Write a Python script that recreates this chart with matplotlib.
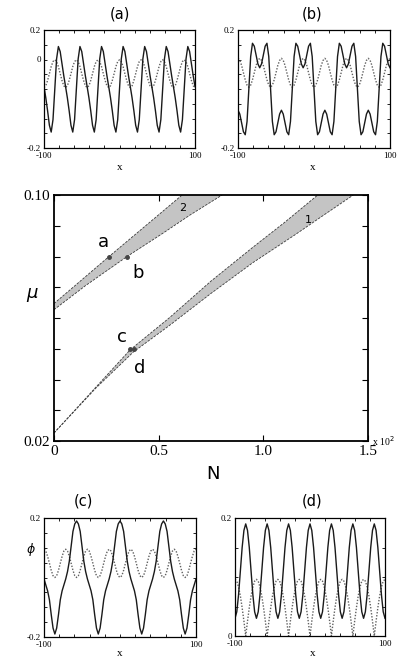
import numpy as np
import matplotlib.pyplot as plt

plt.rcParams['font.family'] = ['Liberation Serif', 'DejaVu Serif']

# ---- profile panels: 85 samples on [-100, 100] ----
x = np.linspace(-100, 100, 85)

# (a) solid field and dotted lattice, one line per lattice period
phi_a = [0.008, -0.030, -0.074, -0.123, -0.146, -0.104, -0.001, 0.102, 0.144, 0.127, 0.086, 0.045,
         0.008, -0.030, -0.074, -0.123, -0.146, -0.104, -0.001, 0.102, 0.144, 0.127, 0.086, 0.045,
         0.008, -0.030, -0.074, -0.123, -0.146, -0.104, -0.001, 0.102, 0.144, 0.127, 0.086, 0.045,
         0.008, -0.030, -0.074, -0.123, -0.146, -0.104, -0.001, 0.102, 0.144, 0.127, 0.086, 0.045,
         0.008, -0.030, -0.074, -0.123, -0.146, -0.104, -0.001, 0.102, 0.144, 0.127, 0.086, 0.045,
         0.008, -0.030, -0.074, -0.123, -0.146, -0.104, -0.001, 0.102, 0.144, 0.127, 0.086, 0.045,
         0.008, -0.030, -0.074, -0.123, -0.146, -0.104, -0.001, 0.102, 0.144, 0.127, 0.086, 0.045,
         0.008]
pot_a = [0.005, 0.011, 0.029, 0.052, 0.076, 0.093, 0.099, 0.093, 0.076, 0.052, 0.029, 0.011,
         0.005, 0.011, 0.029, 0.052, 0.076, 0.093, 0.099, 0.093, 0.076, 0.052, 0.029, 0.011,
         0.005, 0.011, 0.029, 0.052, 0.076, 0.093, 0.099, 0.093, 0.076, 0.052, 0.029, 0.011,
         0.005, 0.011, 0.029, 0.052, 0.076, 0.093, 0.099, 0.093, 0.076, 0.052, 0.029, 0.011,
         0.005, 0.011, 0.029, 0.052, 0.076, 0.093, 0.099, 0.093, 0.076, 0.052, 0.029, 0.011,
         0.005, 0.011, 0.029, 0.052, 0.076, 0.093, 0.099, 0.093, 0.076, 0.052, 0.029, 0.011,
         0.005, 0.011, 0.029, 0.052, 0.076, 0.093, 0.099, 0.093, 0.076, 0.052, 0.029, 0.011,
         0.005]

# (b)
phi_b = [-0.072, -0.085, -0.115, -0.145, -0.155, -0.110, 0.0, 0.110, 0.155, 0.145, 0.115, 0.085,
         0.072, 0.085, 0.115, 0.145, 0.155, 0.110, 0.0, -0.110, -0.155, -0.145, -0.115, -0.085,
         -0.072, -0.085, -0.115, -0.145, -0.155, -0.110, 0.0, 0.110, 0.155, 0.145, 0.115, 0.085,
         0.072, 0.085, 0.115, 0.145, 0.155, 0.110, 0.0, -0.110, -0.155, -0.145, -0.115, -0.085,
         -0.072, -0.085, -0.115, -0.145, -0.155, -0.110, 0.0, 0.110, 0.155, 0.145, 0.115, 0.085,
         0.072, 0.085, 0.115, 0.145, 0.155, 0.110, 0.0, -0.110, -0.155, -0.145, -0.115, -0.085,
         -0.072, -0.085, -0.115, -0.145, -0.155, -0.110, 0.0, 0.110, 0.155, 0.145, 0.115, 0.085,
         0.072]
pot_b = [0.104, 0.097, 0.080, 0.055, 0.031, 0.013, 0.006, 0.013, 0.031, 0.055, 0.080, 0.097,
         0.104, 0.097, 0.080, 0.055, 0.031, 0.013, 0.006, 0.013, 0.031, 0.055, 0.080, 0.097,
         0.104, 0.097, 0.080, 0.055, 0.031, 0.013, 0.006, 0.013, 0.031, 0.055, 0.080, 0.097,
         0.104, 0.097, 0.080, 0.055, 0.031, 0.013, 0.006, 0.013, 0.031, 0.055, 0.080, 0.097,
         0.104, 0.097, 0.080, 0.055, 0.031, 0.013, 0.006, 0.013, 0.031, 0.055, 0.080, 0.097,
         0.104, 0.097, 0.080, 0.055, 0.031, 0.013, 0.006, 0.013, 0.031, 0.055, 0.080, 0.097,
         0.104, 0.097, 0.080, 0.055, 0.031, 0.013, 0.006, 0.013, 0.031, 0.055, 0.080, 0.097,
         0.104]

# (c)
phi_c = [-0.005, -0.025, -0.045, -0.075, -0.125, -0.170, -0.190, -0.170, -0.125, -0.075, -0.045, -0.025,
         -0.005, 0.020, 0.055, 0.105, 0.155, 0.180, 0.190, 0.180, 0.155, 0.105, 0.055, 0.020,
         -0.005, -0.025, -0.045, -0.075, -0.125, -0.170, -0.190, -0.170, -0.125, -0.075, -0.045, -0.025,
         -0.005, 0.020, 0.055, 0.105, 0.155, 0.180, 0.190, 0.180, 0.155, 0.105, 0.055, 0.020,
         -0.005, -0.025, -0.045, -0.075, -0.125, -0.170, -0.190, -0.170, -0.125, -0.075, -0.045, -0.025,
         -0.005, 0.020, 0.055, 0.105, 0.155, 0.180, 0.190, 0.180, 0.155, 0.105, 0.055, 0.020,
         -0.005, -0.025, -0.045, -0.075, -0.125, -0.170, -0.190, -0.170, -0.125, -0.075, -0.045, -0.025,
         -0.005]
pot_c = [0.095, 0.089, 0.071, 0.048, 0.024, 0.006, 0.0, 0.006, 0.024, 0.048, 0.071, 0.089,
         0.095, 0.089, 0.071, 0.048, 0.024, 0.006, 0.0, 0.006, 0.024, 0.048, 0.071, 0.089,
         0.095, 0.089, 0.071, 0.048, 0.024, 0.006, 0.0, 0.006, 0.024, 0.048, 0.071, 0.089,
         0.095, 0.089, 0.071, 0.048, 0.024, 0.006, 0.0, 0.006, 0.024, 0.048, 0.071, 0.089,
         0.095, 0.089, 0.071, 0.048, 0.024, 0.006, 0.0, 0.006, 0.024, 0.048, 0.071, 0.089,
         0.095, 0.089, 0.071, 0.048, 0.024, 0.006, 0.0, 0.006, 0.024, 0.048, 0.071, 0.089,
         0.095, 0.089, 0.071, 0.048, 0.024, 0.006, 0.0, 0.006, 0.024, 0.048, 0.071, 0.089,
         0.095]

# (d)
phi_d = [0.030, 0.041, 0.070, 0.110, 0.150, 0.179, 0.190, 0.179, 0.150, 0.110, 0.070, 0.041,
         0.030, 0.041, 0.070, 0.110, 0.150, 0.179, 0.190, 0.179, 0.150, 0.110, 0.070, 0.041,
         0.030, 0.041, 0.070, 0.110, 0.150, 0.179, 0.190, 0.179, 0.150, 0.110, 0.070, 0.041,
         0.030, 0.041, 0.070, 0.110, 0.150, 0.179, 0.190, 0.179, 0.150, 0.110, 0.070, 0.041,
         0.030, 0.041, 0.070, 0.110, 0.150, 0.179, 0.190, 0.179, 0.150, 0.110, 0.070, 0.041,
         0.030, 0.041, 0.070, 0.110, 0.150, 0.179, 0.190, 0.179, 0.150, 0.110, 0.070, 0.041,
         0.030, 0.041, 0.070, 0.110, 0.150, 0.179, 0.190, 0.179, 0.150, 0.110, 0.070, 0.041,
         0.030]
pot_d = [0.096, 0.093, 0.083, 0.068, 0.048, 0.025, 0.0, 0.025, 0.048, 0.068, 0.083, 0.093,
         0.096, 0.093, 0.083, 0.068, 0.048, 0.025, 0.0, 0.025, 0.048, 0.068, 0.083, 0.093,
         0.096, 0.093, 0.083, 0.068, 0.048, 0.025, 0.0, 0.025, 0.048, 0.068, 0.083, 0.093,
         0.096, 0.093, 0.083, 0.068, 0.048, 0.025, 0.0, 0.025, 0.048, 0.068, 0.083, 0.093,
         0.096, 0.093, 0.083, 0.068, 0.048, 0.025, 0.0, 0.025, 0.048, 0.068, 0.083, 0.093,
         0.096, 0.093, 0.083, 0.068, 0.048, 0.025, 0.0, 0.025, 0.048, 0.068, 0.083, 0.093,
         0.096, 0.093, 0.083, 0.068, 0.048, 0.025, 0.0, 0.025, 0.048, 0.068, 0.083, 0.093,
         0.096]

# ---- existence bands in the (N, mu) plane, N in units of 10^2 ----
band2_N_up = [0.0, 0.10, 0.263, 0.45, 0.612]
band2_mu_up = [0.0647, 0.0705, 0.080, 0.0907, 0.100]
band2_N_lo = [0.0, 0.15, 0.349, 0.521, 0.65, 0.803]
band2_mu_lo = [0.0627, 0.0705, 0.080, 0.0876, 0.0935, 0.100]

band1_N_up = [0.0, 0.20, 0.363, 0.55, 0.75, 0.95, 1.10, 1.26]
band1_mu_up = [0.0226, 0.0375, 0.0496, 0.0600, 0.0720, 0.0830, 0.0910, 0.100]
band1_N_lo = [0.0, 0.20, 0.38, 0.55, 0.75, 0.95, 1.15, 1.30, 1.43]
band1_mu_lo = [0.0226, 0.0372, 0.0490, 0.0575, 0.0680, 0.0780, 0.0870, 0.0940, 0.100]

pt_names = ['a', 'b', 'c', 'd']
pt_N = [0.263, 0.349, 0.365, 0.38]
pt_mu = [0.080, 0.080, 0.050, 0.050]
lab_N = [0.234, 0.401, 0.325, 0.411]
lab_mu = [0.0847, 0.0746, 0.0538, 0.0437]

W, H = 409, 660
fig = plt.figure(figsize=(W / 100, H / 100), dpi=100)


def box(l, t, r, b):
    return [l / W, 1 - b / H, (r - l) / W, (b - t) / H]


def ftext(px, py, s, **kw):
    fig.text(px / W, 1 - py / H, s, ha='center', va='center', **kw)


def profile_axes(rect, phi, pot, ylim, yt, ylab):
    ax = fig.add_axes(rect)
    ax.plot(x, pot, ls=(0, (1, 1.2)), color='#606060', lw=1.0)
    ax.plot(x, phi, color='#1a1a1a', lw=1.0)
    ax.set_xlim(-100, 100)
    ax.set_ylim(*ylim)
    ax.set_xticks(np.arange(-100, 101, 20))
    ax.set_xticklabels(['-100'] + [''] * 9 + ['100'])
    ax.set_yticks(yt)
    ax.set_yticklabels(ylab)
    ax.tick_params(direction='in', length=2.5, width=0.6, top=True, right=True,
                   labelsize=6.5, pad=2)
    ax.tick_params(axis='x', pad=3)
    for s in ax.spines.values():
        s.set_linewidth(0.9)
    return ax


yt5 = [-0.2, -0.15, -0.1, -0.05, 0, 0.05, 0.1, 0.15, 0.2]
profile_axes(box(44, 30, 195, 148), phi_a, pot_a, (-0.2, 0.2), yt5,
             ['-0.2', '', '', '', '', '', '0', '', '0.2'])
profile_axes(box(238, 30, 390, 148), phi_b, pot_b, (-0.2, 0.2), yt5,
             ['-0.2', '', '', '', '', '', '', '', '0.2'])
profile_axes(box(44, 518, 196, 637), phi_c, pot_c, (-0.2, 0.2), yt5,
             ['-0.2', '', '', '', '', '', '', '', '0.2'])
profile_axes(box(235, 518, 385, 636), phi_d, pot_d, (0, 0.2), [0, 0.05, 0.1, 0.15, 0.2],
             ['0', '', '', '', '0.2'])

sans = ['DejaVu Sans']
ftext(120, 14, '(a)', fontsize=10.5, family=sans)
ftext(312, 14, '(b)', fontsize=10.5, family=sans)
ftext(83, 501, '(c)', fontsize=10.5, family=sans)
ftext(312, 501, '(d)', fontsize=10.5, family=sans)
ftext(120, 168, 'x', fontsize=8)
ftext(313, 167, 'x', fontsize=8)
ftext(120, 654, 'x', fontsize=8)
ftext(313, 654, 'x', fontsize=8)
ftext(31, 550, r'$\phi$', fontsize=9)

# ---- main (N, mu) panel ----
ax = fig.add_axes(box(54, 195, 368, 441))
ax.fill(np.concatenate([band2_N_up, band2_N_lo[::-1]]),
        np.concatenate([band2_mu_up, band2_mu_lo[::-1]]), color='#c4c4c4', lw=0)
ax.fill(np.concatenate([band1_N_up, band1_N_lo[::-1]]),
        np.concatenate([band1_mu_up, band1_mu_lo[::-1]]), color='#c4c4c4', lw=0)
for n, m in [(band2_N_up, band2_mu_up), (band2_N_lo, band2_mu_lo),
             (band1_N_up, band1_mu_up), (band1_N_lo, band1_mu_lo)]:
    ax.plot(n, m, color='#3a3a3a', lw=0.6, ls=(0, (3, 1.5)))
ax.plot(pt_N, pt_mu, 'o', color='#444444', ms=2.5)
for name, n, m in zip(pt_names, lab_N, lab_mu):
    ax.text(n, m, name, fontsize=13, family=sans, ha='center', va='center')
ax.text(0.616, 0.0958, '2', fontsize=8, family=sans, ha='center', va='center')
ax.text(1.214, 0.0919, '1', fontsize=8, family=sans, ha='center', va='center')

ax.set_xlim(0, 1.5)
ax.set_ylim(0.02, 0.10)
ax.set_xticks([0, 0.5, 1.0, 1.5])
ax.set_xticklabels(['0', '0.5', '1.0', '1.5'])
ax.set_yticks(np.arange(0.02, 0.1001, 0.01))
ax.set_yticklabels(['0.02'] + [''] * 7 + ['0.10'])
ax.tick_params(direction='in', length=4, width=0.8, top=True, right=True,
               labelsize=11, pad=3)
for s in ax.spines.values():
    s.set_linewidth(1.3)
ax.text(1.012, 0.0, r'x 10$^2$', transform=ax.transAxes, fontsize=7,
        ha='left', va='center')

ftext(213, 474, 'N', fontsize=13, family=sans)
ftext(32, 295, r'$\mu$', fontsize=13)

fig.savefig('out.png', dpi=100)
